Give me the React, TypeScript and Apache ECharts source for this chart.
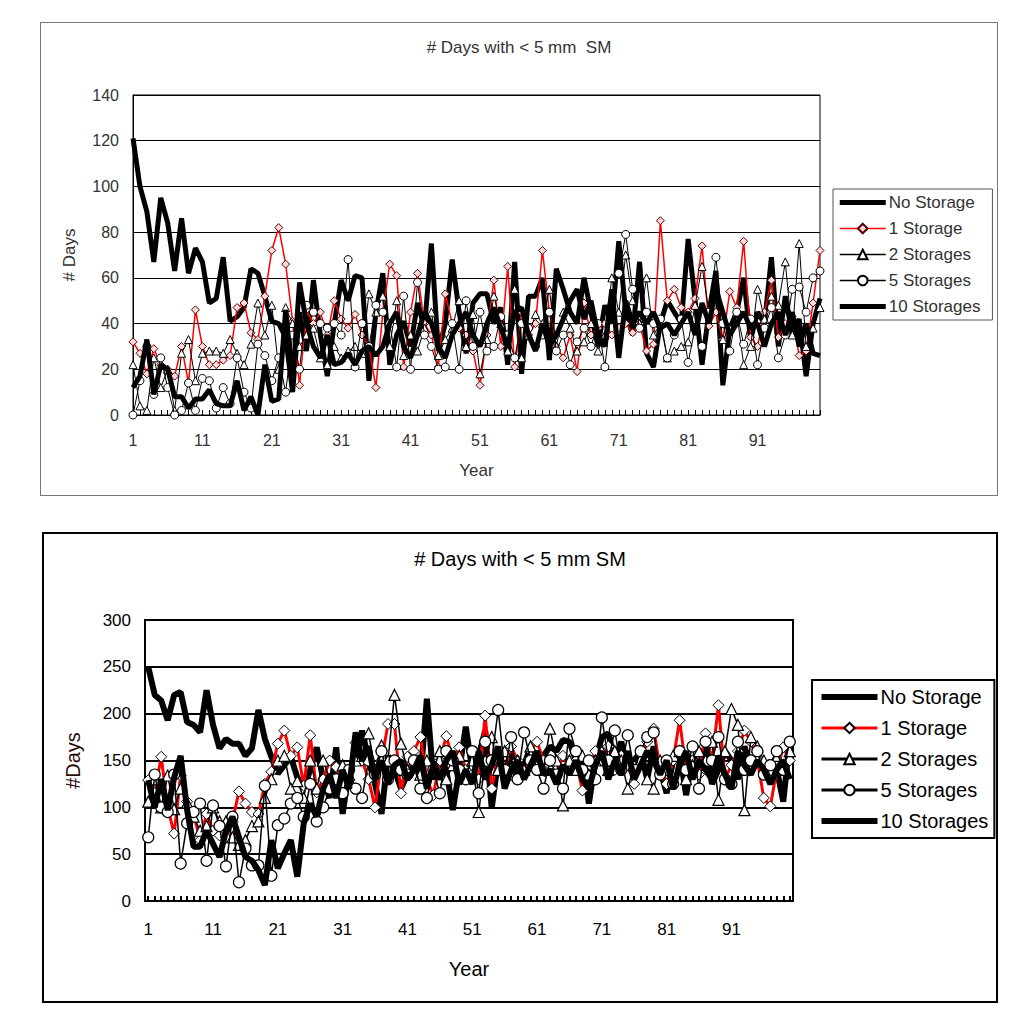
import React, { useEffect, useRef } from "react";
import * as echarts from "echarts";

const years = Array.from({ length: 100 }, (_, i) => String(i + 1));
const names = ["No Storage", "1 Storage", "2 Storages", "5 Storages", "10 Storages"];
const topTitle = "# Days with < 5 mm  SM";
const botTitle = "# Days with < 5 mm SM";

// ---------- Top panel ----------
const topNoStorage = [121,100,89,67,95,84,63,86,62,73, 67,49,51,69,41,43,47,64,62,52, 41,40,34,10,45,28,59,35,17,40, 59,50,61,60,15,45,62,22,35,41, 30,49,38,75,28,40,68,45,27,49, 53,53,40,47,22,67,18,52,52,60, 24,64,55,45,40,60,45,30,48,40, 76,45,35,67,27,21,40,50,45,40, 77,50,22,45,63,13,38,45,60,33, 45,40,69,30,52,35,42,17,40,51];
const topOne = [32,27,18,29,22,20,17,30,14,46, 30,22,22,24,26,47,49,36,33,52, 72,82,66,41,13,46,40,45,35,50, 42,38,44,35,30,12,45,66,61,21, 45,62,40,35,21,53,40,38,35,28, 13,35,59,30,65,21,45,35,40,72, 45,30,25,35,19,49,35,38,40,35, 38,40,36,40,28,31,85,50,55,47, 45,51,74,39,45,33,54,47,76,34, 30,45,59,34,40,43,26,28,49,72];
const topTwo = [22,4,2,25,12,20,2,27,33,15, 27,28,28,27,33,27,22,31,49,35, 48,20,47,40,30,35,38,25,22,30, 25,28,30,27,53,45,52,30,50,26, 35,28,38,45,26,33,38,50,30,44, 18,33,52,40,28,55,25,35,44,40, 55,30,45,38,28,32,40,28,35,60, 45,70,50,40,60,35,40,25,28,30, 32,48,65,45,52,33,38,45,22,30, 55,42,52,48,67,35,75,30,38,47];
const topFive = [0,15,30,9,25,12,0,2,14,2, 16,15,3,12,5,25,10,3,31,26, 15,25,10,35,20,48,45,40,38,40, 35,68,21,40,30,48,45,40,21,52, 20,58,35,30,20,21,40,20,50,30, 45,28,30,43,35,25,40,38,30,35, 45,28,35,22,32,38,30,40,21,48, 62,79,55,38,45,40,42,25,35,42, 23,38,30,45,69,40,28,45,31,42, 22,38,47,25,35,55,56,45,60,63];
const topTen = [12,17,33,9,22,20,8,8,3,7, 7,11,5,4,4,15,2,8,0,22, 6,7,46,15,58,40,30,25,35,22, 23,27,22,28,30,26,30,40,45,30, 25,35,45,40,30,25,35,40,45,35, 30,40,47,38,30,45,47,35,28,40, 30,35,42,50,55,42,50,35,30,55, 25,50,40,45,40,45,38,40,35,40, 45,35,49,40,55,45,35,40,45,38, 40,30,40,45,35,45,30,40,27,26];

// ---------- Bottom panel ----------
const botNoStorage = [250,220,214,193,220,223,191,188,180,225, 188,163,173,168,168,155,163,204,173,154, 136,145,154,132,120,140,164,130,110,164, 93,140,150,182,150,125,93,155,140,120, 135,150,130,216,130,150,140,97,140,186, 140,155,182,99,150,135,160,125,145,165, 150,155,165,160,172,170,150,155,104,150, 175,179,150,170,140,150,160,130,165,140, 115,150,160,113,155,145,165,125,140,160, 150,130,165,145,155,130,150,140,106,173];
const botOne = [129,115,154,100,72,134,106,93,65,93, 75,70,68,85,117,104,95,93,125,138, 168,182,155,164,123,177,116,130,150,143, 125,140,169,150,130,100,150,189,189,115, 154,160,175,130,113,150,176,150,164,140, 145,130,198,120,155,140,165,150,135,160, 170,150,145,135,155,140,150,118,140,160, 150,165,140,155,145,125,150,170,184,140, 125,150,193,140,150,135,179,150,209,130, 145,160,182,170,150,110,101,140,164,150];
const botTwo = [106,130,100,134,98,120,105,90,75,80, 100,85,85,68,60,65,80,85,110,130, 150,155,120,128,110,150,120,150,130,125, 145,135,150,155,179,140,166,150,220,168, 140,150,135,150,140,160,130,145,155,135, 150,95,150,175,140,160,135,150,140,165, 145,140,184,150,102,150,140,155,135,150, 160,140,160,150,120,145,160,130,120,150, 140,155,160,130,145,160,150,170,108,160, 205,188,97,175,165,150,140,155,145,160];
const botFive = [68,135,100,95,135,40,83,95,104,43, 102,80,37,90,20,56,38,38,123,27, 81,88,104,110,90,125,85,100,120,130, 115,140,120,110,150,135,160,130,150,140, 135,150,120,110,140,115,160,150,140,130, 160,115,170,150,204,140,175,130,180,150, 140,120,150,135,120,184,160,140,150,130, 196,150,182,140,177,140,160,175,180,135, 150,125,160,140,165,120,170,150,175,130, 125,170,140,150,160,135,145,160,140,170];
const botTen = [129,100,130,97,132,155,97,58,58,75, 61,47,75,90,68,47,43,33,17,65, 35,51,65,26,83,104,90,120,135,110, 140,120,180,150,165,130,150,125,145,150, 130,140,155,120,145,130,150,160,125,140, 125,160,130,145,165,120,140,150,130,145, 160,135,140,125,145,135,150,130,120,145, 160,130,150,135,160,130,145,160,150,135, 150,120,145,160,130,150,140,130,155,135, 120,160,145,135,150,140,125,140,150,130];

const FONT = "'Liberation Sans Narrow', 'Liberation Sans', Arial, sans-serif";

function buildOption(p: any) {
  const data = p.data;
  const mk = (i: number) => {
    const base: any = {
      type: "line",
      name: names[i],
      data: data[i],
      showAllSymbol: true,
      z: 2 + i,
    };
    if (i === 0 || i === 4) {
      base.symbol = "none";
      base.lineStyle = { color: "#000", width: p.thick };
      base.itemStyle = { color: "#000" };
    } else if (i === 1) {
      base.symbol = "diamond";
      base.symbolSize = p.symDiamond;
      base.lineStyle = { color: "#ff0000", width: p.redW };
      base.itemStyle = { color: p.diamondFill, borderColor: p.diamondBorder, borderWidth: 1 };
    } else {
      base.symbol = i === 2 ? "triangle" : "circle";
      base.symbolSize = p.sym;
      base.lineStyle = { color: "#000", width: p.thinW };
      base.itemStyle = { color: "#fff", borderColor: "#000", borderWidth: p.symBorder };
    }
    return base;
  };
  const thickIcon = `path://M0,0 L${p.legend.itemWidth},0 L${p.legend.itemWidth},${p.thick} L0,${p.thick} Z`;
  const legendData = names.map((n, i) =>
    i === 0 || i === 4 ? { name: n, icon: thickIcon, itemStyle: { color: "#000", borderWidth: 0 } } : { name: n }
  );
  return {
    animation: false,
    title: {
      text: p.title,
      left: "center",
      top: p.titleTop,
      textStyle: { fontFamily: FONT, fontSize: p.titleSize, fontWeight: "normal", color: p.textColor },
    },
    grid: {
      left: p.grid.left,
      top: p.grid.top,
      width: p.grid.width,
      height: p.grid.height,
      show: true,
      borderColor: "#000",
      borderWidth: p.borderW,
      backgroundColor: "#fff",
    },
    legend: {
      orient: "vertical",
      left: p.legend.left,
      top: p.legend.top,
      padding: p.legend.padding,
      itemGap: p.legend.gap,
      itemWidth: p.legend.itemWidth,
      itemHeight: p.legend.itemHeight,
      symbolKeepAspect: true,
      borderColor: p.legend.borderColor,
      borderWidth: p.legend.borderWidth,
      backgroundColor: "#fff",
      selectedMode: false,
      lineStyle: { width: p.legend.lineW },
      data: legendData,
      textStyle: { fontFamily: FONT, fontSize: p.legend.fontSize, color: p.textColor, padding: [0, 0, 0, -2] },
    },
    xAxis: {
      type: "category",
      data: years,
      boundaryGap: p.boundaryGap,
      name: "Year",
      nameLocation: "middle",
      nameGap: p.xNameGap,
      nameTextStyle: { fontFamily: FONT, fontSize: p.nameSize, color: p.textColor },
      axisLine: { show: true, lineStyle: { color: "#000", width: p.borderW } },
      axisTick: { show: true, inside: true, interval: 0, length: 5, alignWithLabel: true, lineStyle: { color: "#000", width: p.borderW } },
      axisLabel: { interval: 9, margin: p.xLabelMargin, fontFamily: FONT, fontSize: p.labelSize, color: p.textColor },
      splitLine: { show: false },
    },
    yAxis: {
      type: "value",
      min: 0,
      max: p.yMax,
      interval: p.yInterval,
      name: p.yName,
      nameLocation: "middle",
      nameGap: p.yNameGap,
      nameRotate: 90,
      nameTextStyle: { fontFamily: FONT, fontSize: p.nameSize, color: p.yNameColor },
      axisLine: { show: true, lineStyle: { color: "#000", width: p.borderW } },
      axisTick: { show: false },
      axisLabel: { margin: p.yLabelMargin, fontFamily: FONT, fontSize: p.labelSize, color: p.textColor },
      splitLine: { show: true, lineStyle: { color: "#000", width: p.gridW } },
    },
    series: [0, 1, 2, 3, 4].map(mk),
  };
}

const topParams = {
  data: [topNoStorage, topOne, topTwo, topFive, topTen],
  title: topTitle,
  titleTop: 11,
  titleSize: 17,
  textColor: "#333",
  yNameColor: "#333",
  grid: { left: 92, top: 72, width: 687, height: 320 },
  borderW: 1,
  gridW: 1,
  thick: 5,
  redW: 1.5,
  thinW: 1,
  sym: 8,
  symDiamond: 8,
  symBorder: 1,
  diamondFill: "#ffd8d8",
  diamondBorder: "#500",
  boundaryGap: false,
  xNameGap: 47,
  xLabelMargin: 17,
  yLabelMargin: 14,
  labelSize: 16,
  nameSize: 17,
  yMax: 140,
  yInterval: 20,
  yName: "# Days",
  yNameGap: 55,
  legend: { left: 792, top: 166, padding: [5, 12, 5, 6], gap: 9, itemWidth: 46, itemHeight: 12, lineW: 1.5, borderColor: "#555", borderWidth: 1, fontSize: 17 },
};

const botParams = {
  data: [botNoStorage, botOne, botTwo, botFive, botTen],
  title: botTitle,
  titleTop: 10,
  titleSize: 20,
  textColor: "#000",
  yNameColor: "#2a0a0a",
  grid: { left: 101, top: 86, width: 648, height: 281 },
  borderW: 2,
  gridW: 2,
  thick: 6,
  redW: 3,
  thinW: 1.5,
  sym: 11,
  symDiamond: 11,
  symBorder: 1.2,
  diamondFill: "#fff",
  diamondBorder: "#000",
  boundaryGap: true,
  xNameGap: 58,
  xLabelMargin: 20,
  yLabelMargin: 14,
  labelSize: 17,
  nameSize: 20,
  yMax: 300,
  yInterval: 50,
  yName: "#Days",
  yNameGap: 62,
  legend: { left: 768, top: 146, padding: [7, 6, 7, 8], gap: 11, itemWidth: 56, itemHeight: 13, lineW: 3, borderColor: "#000", borderWidth: 2, fontSize: 20 },
};

function Chart({ params, style }: { params: any; style: React.CSSProperties }) {
  const ref = useRef<HTMLDivElement>(null);
  useEffect(() => {
    if (!ref.current) return;
    const chart = echarts.init(ref.current, undefined, { renderer: "svg" });
    chart.setOption(buildOption(params));
    return () => chart.dispose();
  }, [params]);
  return <div ref={ref} style={style} />;
}

export default function App() {
  return (
    <div style={{ position: "fixed", left: 0, top: 0, width: 1016, height: 1019, background: "#fff" }}>
      <div style={{ position: "absolute", left: 40, top: 22, width: 956, height: 472, border: "1px solid #777" }}>
        <Chart params={topParams} style={{ width: 956, height: 472 }} />
      </div>
      <div style={{ position: "absolute", left: 42, top: 532, width: 952, height: 467, border: "2px solid #000" }}>
        <Chart params={botParams} style={{ width: 952, height: 467 }} />
      </div>
    </div>
  );
}
